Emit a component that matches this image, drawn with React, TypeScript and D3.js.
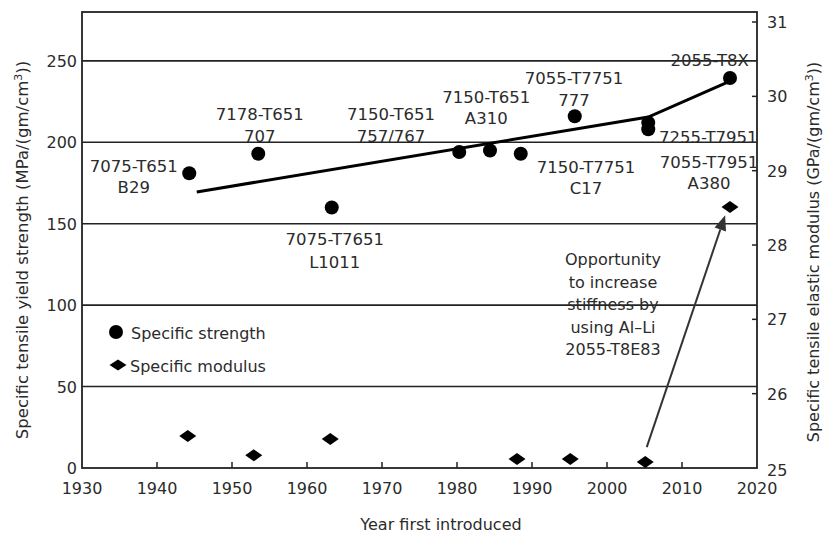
import { useMemo } from "react";
import * as d3 from "d3";

// ── Data ──────────────────────────────────────────────────────
// Specific strength (circles), left axis
const STRENGTH_YEARS = [1944.3, 1953.5, 1963.3, 1980.3, 1984.4, 1988.5, 1995.7, 2005.5, 2005.5, 2016.4];
const STRENGTH_VALUES = [181, 193, 160, 194, 195, 193, 216, 212, 208, 239.5];

// Trend line through the strength points
const TREND_YEARS = [1945.3, 2005.5, 2016.1];
const TREND_VALUES = [169.5, 215.5, 237];

// Specific modulus (diamonds), right axis
const MODULUS_YEARS = [1944.1, 1952.9, 1963.1, 1988.0, 1995.1, 2005.1, 2016.4];
const MODULUS_VALUES = [25.43, 25.17, 25.39, 25.12, 25.12, 25.08, 28.51];

const X_TICKS = [1930, 1940, 1950, 1960, 1970, 1980, 1990, 2000, 2010, 2020];
const LEFT_TICKS = [0, 50, 100, 150, 200, 250];
const RIGHT_TICKS = [25, 26, 27, 28, 29, 30, 31];

const LABEL_TEXT = [
  ["7075-T651", "B29"],
  ["7178-T651", "707"],
  ["7075-T7651", "L1011"],
  ["7150-T651", "757/767"],
  ["7150-T651", "A310"],
  ["7055-T7751", "777"],
  ["7150-T7751", "C17"],
  ["7255-T7951"],
  ["7055-T7951", "A380"],
  ["2055-T8X"],
];
const NOTE_TEXT = ["Opportunity", "to increase", "stiffness by", "using Al\u2013Li", "2055-T8E83"];

// ── Layout ────────────────────────────────────────────────────
const W = 823;
const H = 536;
const X0 = 82, X1 = 757, Y0 = 468, Y1 = 12;
const INK = "#222";
const TXT = "#2b2b2b";
const FONT = "'DejaVu Sans', sans-serif";

// label anchors: [year, left-axis value of first baseline, line height]
const LABEL_POS: [number, number, number][] = [
  [1936.9, 181.8, 21],
  [1953.7, 213.7, 22],
  [1963.7, 136.9, 23],
  [1971.2, 213.7, 22],
  [1983.9, 224.1, 21],
  [1995.6, 235.8, 22],
  [1997.2, 181.1, 21],
  [2013.5, 199.6, 21],
  [2013.6, 184.2, 21],
  [2013.7, 246.8, 21],
];
const NOTE_POS: [number, number, number] = [2000.8, 124.6, 22.5];
const ARROW_FROM: [number, number] = [2005.3, 25.28];
const ARROW_TO: [number, number] = [2015.75, 28.4];

export default function App() {
  const x = useMemo(() => d3.scaleLinear().domain([1930, 2020]).range([X0, X1]), []);
  const yL = useMemo(() => d3.scaleLinear().domain([0, 280]).range([Y0, Y1]), []);
  const yR = useMemo(() => d3.scaleLinear().domain([25, 31.135]).range([Y0, Y1]), []);

  const trend = d3.line<number>()
    .x((_d, i) => x(TREND_YEARS[i]))
    .y((d) => yL(d))(TREND_VALUES) ?? "";

  const diamond = (cx: number, cy: number, hw = 8.5, hh = 6) =>
    `M${cx - hw},${cy}L${cx},${cy - hh}L${cx + hw},${cy}L${cx},${cy + hh}Z`;

  // arrow geometry
  const ax0 = x(ARROW_FROM[0]), ay0 = yR(ARROW_FROM[1]);
  const ax1 = x(ARROW_TO[0]), ay1 = yR(ARROW_TO[1]);
  const ang = Math.atan2(ay1 - ay0, ax1 - ax0);
  const headLen = 15, headW = 6;
  const bx = ax1 - headLen * Math.cos(ang), by = ay1 - headLen * Math.sin(ang);
  const head = `M${ax1},${ay1}L${bx + headW * Math.sin(ang)},${by - headW * Math.cos(ang)}L${bx - headW * Math.sin(ang)},${by + headW * Math.cos(ang)}Z`;

  return (
    <svg width={W} height={H} style={{ position: "absolute", left: 0, top: 0, background: "#fff" }} fontFamily={FONT}>
      {/* grid lines */}
      {LEFT_TICKS.filter((t) => t > 0).map((t) => (
        <line key={t} x1={X0} x2={X1} y1={yL(t)} y2={yL(t)} stroke={INK} strokeWidth={1.6} />
      ))}
      {/* frame */}
      <rect x={X0} y={Y1} width={X1 - X0} height={Y0 - Y1} fill="none" stroke={INK} strokeWidth={1.8} />

      {/* bottom ticks */}
      {X_TICKS.map((t) => (
        <g key={t}>
          {t > 1930 && t < 2020 && <line x1={x(t)} x2={x(t)} y1={Y0} y2={Y0 - 6} stroke={INK} strokeWidth={1.5} />}
          <text x={x(t)} y={Y0 + 26} textAnchor="middle" fontSize={16} fill={TXT}>{t}</text>
        </g>
      ))}
      {/* left ticks */}
      {LEFT_TICKS.map((t) => (
        <text key={t} x={X0 - 5} y={yL(t) + 6} textAnchor="end" fontSize={16} fill={TXT}>{t}</text>
      ))}
      {/* right ticks */}
      {RIGHT_TICKS.map((t) => (
        <g key={t}>
          {t > 25 && <line x1={X1 - 5} x2={X1} y1={yR(t)} y2={yR(t)} stroke={INK} strokeWidth={1.5} />}
          <text x={X1 + 10} y={yR(t) + 6 + (t === 25 ? 2 : 0)} fontSize={16} fill={TXT}>{t}</text>
        </g>
      ))}

      {/* axis titles */}
      <text transform="translate(28,250) rotate(-90)" textAnchor="middle" fontSize={16.5} fill={TXT}>
        Specific tensile yield strength (MPa/(gm/cm<tspan dy={-6} fontSize={11}>3</tspan><tspan dy={6}>))</tspan>
      </text>
      <text transform="translate(819,252) rotate(-90)" textAnchor="middle" fontSize={16} fill={TXT}>
        Specific tensile elastic modulus (GPa/(gm/cm<tspan dy={-6} fontSize={11}>3</tspan><tspan dy={6}>))</tspan>
      </text>
      <text x={441} y={530} textAnchor="middle" fontSize={16} fill={TXT}>Year first introduced</text>

      {/* trend */}
      <path d={trend} fill="none" stroke="#000" strokeWidth={3} />

      {/* strength points */}
      {STRENGTH_VALUES.map((v, i) => (
        <circle key={i} cx={x(STRENGTH_YEARS[i])} cy={yL(v)} r={7} fill="#000" />
      ))}
      {/* modulus points */}
      {MODULUS_VALUES.map((v, i) => (
        <path key={i} d={diamond(x(MODULUS_YEARS[i]), yR(v))} fill="#000" />
      ))}

      {/* labels */}
      {LABEL_TEXT.map((lines, i) => {
        const [yr, val, lh] = LABEL_POS[i];
        return (
          <text key={i} x={x(yr)} y={yL(val)} textAnchor="middle" fontSize={16.5} fill={TXT}>
            {lines.map((s, j) => (
              <tspan key={j} x={x(yr)} dy={j === 0 ? 0 : lh}>{s}</tspan>
            ))}
          </text>
        );
      })}

      {/* annotation */}
      <text x={x(NOTE_POS[0])} y={yL(NOTE_POS[1])} textAnchor="middle" fontSize={16} fill={TXT}>
        {NOTE_TEXT.map((s, j) => (
          <tspan key={j} x={x(NOTE_POS[0])} dy={j === 0 ? 0 : NOTE_POS[2]}>{s}</tspan>
        ))}
      </text>
      <line x1={ax0} y1={ay0} x2={bx} y2={by} stroke="#333" strokeWidth={2} />
      <path d={head} fill="#333" />

      {/* legend */}
      <circle cx={116} cy={332} r={7} fill="#000" />
      <text x={131} y={339} fontSize={16} fill={TXT}>Specific strength</text>
      <path d={diamond(118, 365, 8.5, 5.5)} fill="#000" />
      <text x={130} y={372} fontSize={16} fill={TXT}>Specific modulus</text>
    </svg>
  );
}
